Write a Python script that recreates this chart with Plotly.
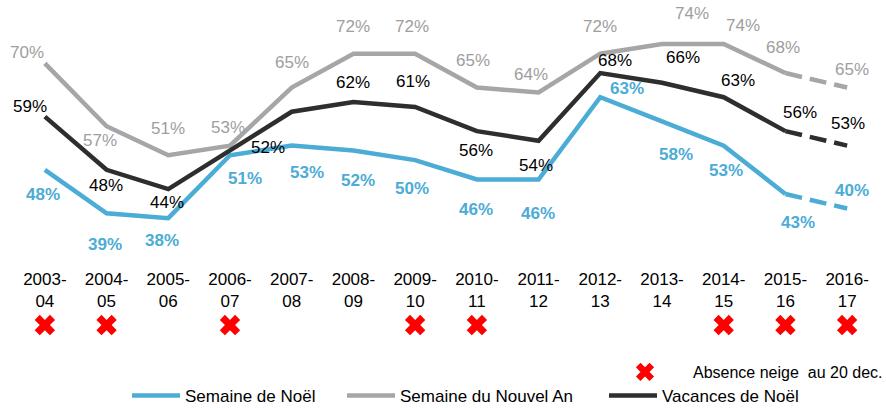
import plotly.graph_objects as go

# ---------------- data ----------------
categories = ["2003-04", "2004-05", "2005-06", "2006-07", "2007-08", "2008-09", "2009-10",
              "2010-11", "2011-12", "2012-13", "2013-14", "2014-15", "2015-16", "2016-17"]
tick_labels = ["2003-<br>04", "2004-<br>05", "2005-<br>06", "2006-<br>07", "2007-<br>08",
               "2008-<br>09", "2009-<br>10", "2010-<br>11", "2011-<br>12", "2012-<br>13",
               "2013-<br>14", "2014-<br>15", "2015-<br>16", "2016-<br>17"]

semaine_noel = [48, 39, 38, 51, 53, 52, 50, 46, 46, 63, 58, 53, 43, 40]
semaine_nouvel_an = [70, 57, 51, 53, 65, 72, 72, 65, 64, 72, 74, 74, 68, 65]
vacances_noel = [59, 48, 44, 52, 60, 62, 61, 56, 54, 68, 66, 63, 56, 53]
vacances_noel_shown = [True, True, True, True, False, True, True, True, True, True, True, True, True, True]

absence_neige = ["2003-04", "2004-05", "2006-07", "2009-10", "2010-11", "2014-15", "2015-16", "2016-17"]

# ---------------- styles ----------------
BLUE = "#4BACD6"
GREY = "#A6A6A6"
DARK = "#2E2E2E"
FONT = "Liberation Sans, Arial, sans-serif"

# label offsets in pixels (dx, dy) - dy positive = up
off_noel = [(-2, -25), (-2, -31), (-6, -22), (15, -23), (15, -27), (5, -30), (-3, -28),
            (-1, -30), (-1, -34), (27, 9), (14, -33), (2, -25), (13, -29), (5, 18)]
off_nouvel = [(-18, 11), (-7, -14), (0, 27), (-2, 18), (0, 25), (0, 27), (-3, 27),
              (-4, 27), (-8, 18), (0, 27), (30, 31), (19, 19), (-2, 26), (5, 18)]
off_vac = [(-15, 10), (-1, -16), (-1, -13), (38, 3), (0, 0), (0, 20), (-2, 25),
           (-1, -19), (-3, -25), (15, 13), (21, 25), (14, 17), (15, 19), (1, 22)]

fig = go.Figure()

series = [
    ("Semaine de Noël", semaine_noel, BLUE, "legend", off_noel, BLUE, True, None),
    ("Semaine du Nouvel An", semaine_nouvel_an, GREY, "legend2", off_nouvel, "#9E9E9E", False, None),
    ("Vacances de Noël", vacances_noel, DARK, "legend3", off_vac, "#000000", False, vacances_noel_shown),
]

annotations = []
for name, vals, color, leg, offs, lcolor, bold, shown in series:
    fig.add_trace(go.Scatter(
        x=categories[:-1], y=vals[:-1], mode="lines", name=name, legend=leg,
        line=dict(color=color, width=4.5), hoverinfo="skip"))
    fig.add_trace(go.Scatter(
        x=categories[-2:], y=vals[-2:], mode="lines", showlegend=False,
        line=dict(color=color, width=4.5, dash="17px,8px"), hoverinfo="skip"))
    for i, (c, v) in enumerate(zip(categories, vals)):
        if shown is not None and not shown[i]:
            continue
        dx, dy = offs[i]
        txt = f"<b>{v}%</b>" if bold else f"{v}%"
        annotations.append(dict(
            x=c, y=v, xref="x", yref="y", text=txt, showarrow=False,
            xshift=dx, yshift=dy, font=dict(family=FONT, size=17, color=lcolor)))

# red crosses: absence de neige
fig.add_trace(go.Scatter(
    x=absence_neige, y=[0] * len(absence_neige), xaxis="x", yaxis="y2",
    mode="markers", name="Absence neige  au 20 dec.", legend="legend4",
    marker=dict(symbol="x", size=18, color="#FF0000", line=dict(width=0)),
    hoverinfo="skip"))

leg_common = dict(orientation="h", xref="container", yref="container",
                  xanchor="left", yanchor="middle", bgcolor="rgba(0,0,0,0)")

fig.update_layout(
    width=886, height=410,
    margin=dict(l=14, r=8, t=15, b=70, autoexpand=False),
    paper_bgcolor="white", plot_bgcolor="white",
    font=dict(family=FONT, size=17, color="#000000"),
    annotations=annotations,
    xaxis=dict(
        type="category", categoryorder="array", categoryarray=categories,
        tickmode="array", tickvals=categories, ticktext=tick_labels,
        range=[-0.5, len(categories) - 0.5], anchor="y",
        showgrid=False, zeroline=False, showline=False, ticks="",
        tickfont=dict(family=FONT, size=17, color="#000000")),
    yaxis=dict(range=[28, 80], domain=[0.226, 1], visible=False, showgrid=False),
    yaxis2=dict(range=[-1, 1], domain=[0, 0.092], visible=False, showgrid=False, anchor="x"),
    legend=dict(**leg_common, x=127 / 886, y=1 - 396 / 410, itemwidth=48,
                font=dict(family=FONT, size=17)),
    legend2=dict(**leg_common, x=342 / 886, y=1 - 396 / 410, itemwidth=48,
                 font=dict(family=FONT, size=17)),
    legend3=dict(**leg_common, x=604 / 886, y=1 - 396 / 410, itemwidth=48,
                 font=dict(family=FONT, size=17)),
    legend4=dict(**leg_common, x=597 / 886, y=1 - 372 / 410, itemwidth=86,
                 font=dict(family=FONT, size=16)),
)

fig.write_html("out.html")
